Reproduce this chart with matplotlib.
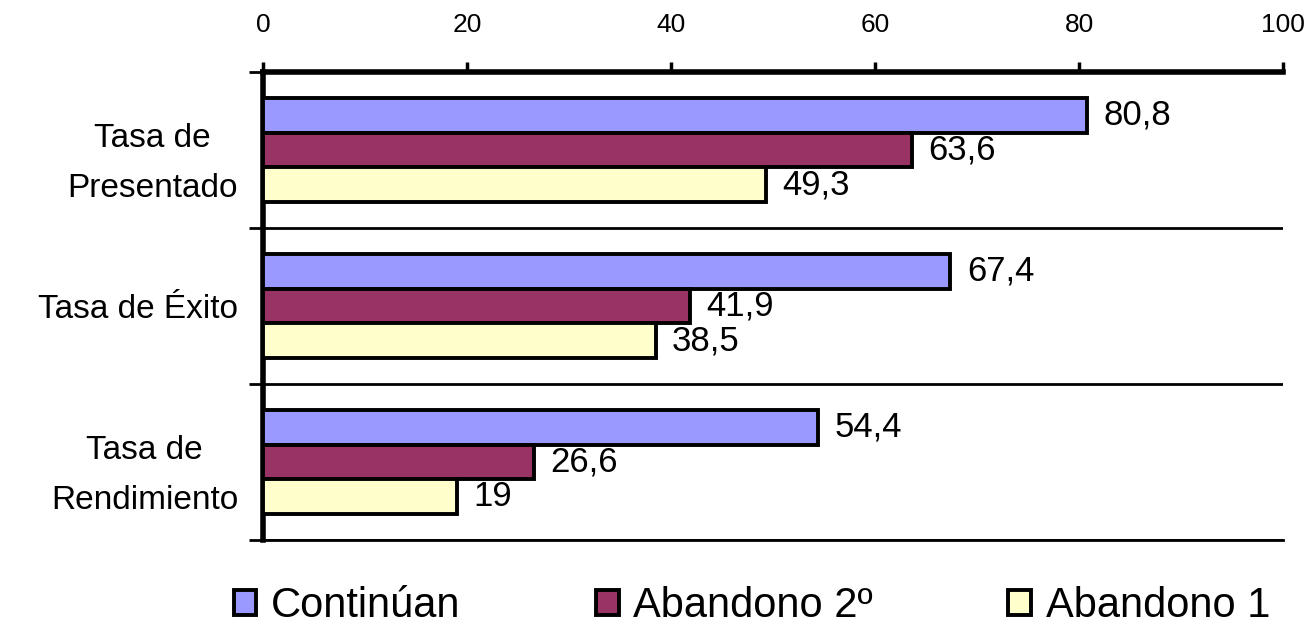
import numpy as np
import matplotlib
matplotlib.use("Agg")
import matplotlib.pyplot as plt
from matplotlib.patches import Patch

plt.rcParams['font.family'] = ['Liberation Sans', 'DejaVu Sans']

# Data
categories = ["Tasa de\nPresentado", "Tasa de Éxito", "Tasa de\nRendimiento"]
series_names = ["Continúan", "Abandono 2º", "Abandono 1"]
continuan = [80.8, 67.4, 54.4]
abandono2 = [63.6, 41.9, 26.6]
abandono1 = [49.3, 38.5, 19]
value_labels = [["80,8", "67,4", "54,4"], ["63,6", "41,9", "26,6"], ["49,3", "38,5", "19"]]
colors = ["#9999FF", "#993366", "#FFFFCC"]
x_ticks = [0, 20, 40, 60, 80, 100]

fig = plt.figure(figsize=(13.1, 6.24), dpi=100)
ax = fig.add_axes([263 / 1310, 1 - 540 / 624, 1020 / 1310, 468 / 624])

y = np.arange(len(categories))
h = 0.222
all_series = [continuan, abandono2, abandono1]
for i, vals in enumerate(all_series):
    pos = y + (i - 1) * h
    ax.barh(pos, vals, height=h, color=colors[i], edgecolor="black", linewidth=2.8,
            label=series_names[i], zorder=3)
    for p, v, lab in zip(pos, vals, value_labels[i]):
        ax.text(v + 1.6, p, lab, va="center", ha="left", fontsize=25, zorder=4)

ax.set_xlim(0, 100)
ax.set_ylim(2.5, -0.5)

# x axis on top
ax.xaxis.tick_top()
ax.set_xticks(x_ticks)
ax.set_xticklabels([str(t) for t in x_ticks], fontsize=19)
ax.tick_params(axis="x", direction="out", length=7, width=2.5, pad=18)

# category separators as major ticks, labels on minor ticks
ax.set_yticks([-0.5, 0.5, 1.5, 2.5])
ax.set_yticklabels([])
ax.tick_params(axis="y", which="major", direction="out", length=10, width=2)
ax.set_yticks(y, minor=True)
ax.set_yticklabels(categories, minor=True, fontsize=24, multialignment="center",
                   linespacing=1.8)
ax.tick_params(axis="y", which="minor", length=0, pad=18)
ax.grid(axis="y", which="major", color="black", linewidth=2, zorder=1)

ax.spines["right"].set_visible(False)
ax.spines["left"].set_linewidth(4)
ax.spines["top"].set_linewidth(4)
ax.spines["bottom"].set_linewidth(2)

handles = [Patch(facecolor=c, edgecolor="black", linewidth=2.8) for c in colors]
fig.legend(handles, series_names, loc="center", bbox_to_anchor=(0.574, 1 - 606 / 624),
           ncol=3, frameon=False, fontsize=30, handlelength=0.55, handleheight=0.55,
           handletextpad=0.35, columnspacing=3.25)

fig.savefig("out.png", dpi=100)
